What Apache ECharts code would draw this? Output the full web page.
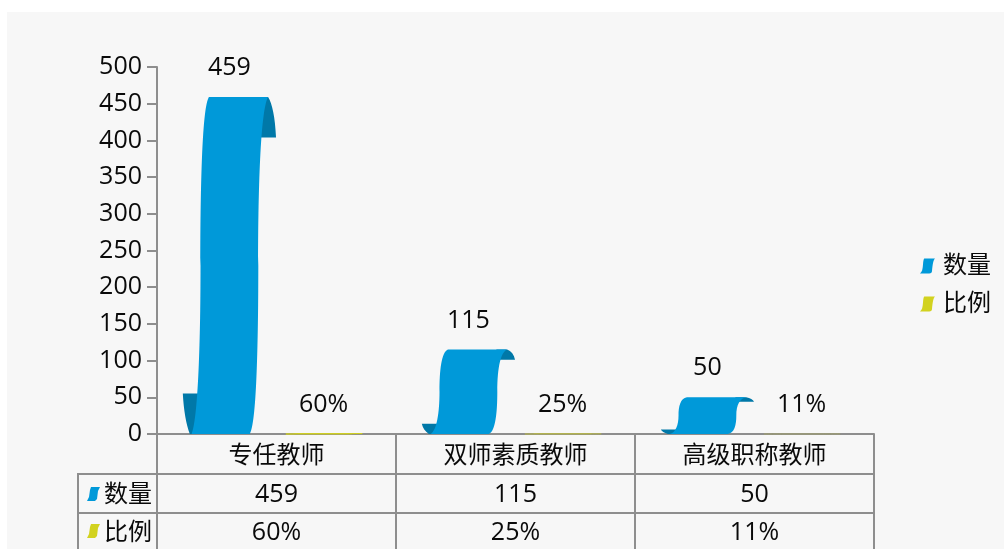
<!DOCTYPE html>
<html>
<head>
<meta charset="utf-8">
<title>教师队伍</title>
<script src="https://cdn.jsdelivr.net/npm/echarts@6/dist/echarts.min.js"></script>
<style>
  html, body { margin: 0; height: 100%; background: #fff; overflow: hidden; }
  .panel { position: absolute; left: 7px; top: 12px; right: 0; bottom: 0; background: #f7f7f7; }
  #chart { position: absolute; left: 0; top: 0; width: 1004px; height: 549px; }
</style>
</head>
<body>
<div class="panel"></div>
<div id="chart"></div>
<script>
const categories = ['专任教师', '双师素质教师', '高级职称教师']
const counts = [459, 115, 50]
const ratios = [60, 25, 11]
const yTicks = [0, 50, 100, 150, 200, 250, 300, 350, 400, 450, 500]

const BLUE = '#0099d9'
const BLUE_DARK = '#0078a8'
const YELLOW = '#d2d21f'
const YELLOW_DARK = '#a5a518'
const LINE = '#8e8e8e'
const TEXT = '#0a0a0a'
const FONT = '"Open Sans", "Noto Sans CJK SC", sans-serif'
const ICON = 'M28 0H100C88 12 84 40 80 85C78 95 72 100 62 100H0C14 90 18 70 20 40C22 15 24 5 28 0Z'

// scroll shaped bar, u is a share of the half width, v a share of the bar height
const scrollBar = (color, dark, shift, getLabel) => (params, api) => {
  const base = api.coord([api.value(0), 0])
  const top = api.coord([api.value(0), api.value(1)])
  const band = api.size([1, 0])[0]
  const cx = base[0] + band * shift
  const hw = band * 0.195
  const h = base[1] - top[1]
  const p = (u, v) => `${cx + u * hw} ${base[1] - v * h}`
  const c = (a, b, d, e, f, g) => `C${p(a, b)} ${p(d, e)} ${p(f, g)}`

  const back = `M${p(-1, 0.12)}L${p(-0.65, 0.12)}L${p(-0.65, 0)}L${p(-0.85, 0)}${c(-0.93, 0.03, -0.98, 0.07, -1, 0.12)}Z` +
    `M${p(0.83, 1)}${c(0.92, 0.98, 0.98, 0.94, 1, 0.88)}L${p(0.6, 0.88)}L${p(0.6, 1)}Z`
  const body = `M${p(-0.81, 0)}${c(-0.68, 0.04, -0.62, 0.25, -0.62, 0.5)}${c(-0.62, 0.75, -0.58, 0.97, -0.44, 1)}` +
    `L${p(0.83, 1)}${c(0.7, 0.97, 0.62, 0.8, 0.62, 0.5)}${c(0.62, 0.25, 0.58, 0.03, 0.44, 0)}Z`

  // bars under a pixel tall would vanish, a hairline keeps them as faint as in the source
  const thin = h < 1 ? { stroke: color, lineWidth: h * 2 } : {}

  return {
    type: 'group',
    children: [
      { type: 'path', shape: { pathData: back }, style: { fill: dark } },
      { type: 'path', shape: { pathData: body }, style: { fill: color, ...thin } },
      {
        type: 'text',
        style: {
          text: getLabel(params.dataIndex),
          x: cx,
          y: top[1] - 29,
          align: 'center',
          verticalAlign: 'middle',
          fill: TEXT,
          font: `25px ${FONT}`
        }
      }
    ]
  }
}

const tableAxis = (data, offset, tickLength, margin, fontSize) => ({
  type: 'category',
  position: 'bottom',
  offset,
  data,
  axisLine: { lineStyle: { color: LINE, width: 2 } },
  axisTick: { show: true, length: tickLength, lineStyle: { color: LINE, width: 2 } },
  axisLabel: { interval: 0, margin, color: TEXT, fontSize, fontFamily: FONT }
})

const headerText = (text, y) => ({
  type: 'text',
  x: 128,
  y,
  style: { text, fill: TEXT, font: `24px ${FONT}`, align: 'center', verticalAlign: 'middle' }
})
const headerIcon = (color, y) => ({
  type: 'polygon',
  shape: { points: [[91, y], [100, y], [98, y + 4], [97, y + 12], [95, y + 14], [87, y + 14], [89, y + 10], [90, y + 3]] },
  style: { fill: color }
})
const headerLine = (x1, y1, x2, y2) => ({
  type: 'line',
  shape: { x1, y1, x2, y2 },
  style: { stroke: LINE, lineWidth: 2 }
})

const chart = echarts.init(document.getElementById('chart'))
chart.setOption({
  animation: false,
  backgroundColor: 'transparent',
  textStyle: { fontFamily: FONT },
  grid: { left: 157, right: 130, top: 67, bottom: 115, outerBoundsMode: 'none' },
  legend: {
    orient: 'vertical',
    left: 920,
    top: 254,
    padding: 0,
    itemWidth: 15,
    itemHeight: 16,
    itemGap: 14,
    data: [
      { name: '数量', icon: `path://${ICON}`, itemStyle: { color: BLUE } },
      { name: '比例', icon: `path://${ICON}`, itemStyle: { color: YELLOW } }
    ],
    textStyle: { color: TEXT, fontSize: 24, fontFamily: FONT, padding: [0, 0, 0, 3] }
  },
  xAxis: [
    tableAxis(categories, 0, 40, 10, 24),
    tableAxis(counts, 40, 39, 8, 25),
    tableAxis(ratios.map((v) => `${v}%`), 79, 40, 7, 25)
  ],
  yAxis: {
    type: 'value',
    min: 0,
    max: 500,
    interval: 50,
    axisLine: { show: true, lineStyle: { color: LINE, width: 2 } },
    axisTick: { show: true, length: 10, lineStyle: { color: LINE, width: 2 } },
    axisLabel: {
      margin: 15,
      padding: [3, 0, 0, 0],
      color: TEXT,
      fontSize: 25,
      fontFamily: FONT,
      formatter: (v) => (yTicks.includes(v) ? `${v}` : '')
    },
    splitLine: { show: false }
  },
  series: [
    {
      name: '数量',
      type: 'custom',
      xAxisIndex: 0,
      encode: { x: 0, y: 1 },
      data: counts.map((v, i) => [i, v]),
      renderItem: scrollBar(BLUE, BLUE_DARK, -0.197, (i) => `${counts[i]}`)
    },
    {
      name: '比例',
      type: 'custom',
      xAxisIndex: 0,
      encode: { x: 0, y: 1 },
      data: ratios.map((v, i) => [i, v / 100]),
      renderItem: scrollBar(YELLOW, YELLOW_DARK, 0.197, (i) => `${ratios[i]}%`)
    }
  ],
  graphic: [
    headerLine(78, 474, 157, 474),
    headerLine(78, 513, 157, 513),
    headerLine(78, 473, 78, 549),
    headerIcon(BLUE, 487),
    headerIcon(YELLOW, 524),
    headerText('数量', 495),
    headerText('比例', 533)
  ]
})
</script>
</body>
</html>
